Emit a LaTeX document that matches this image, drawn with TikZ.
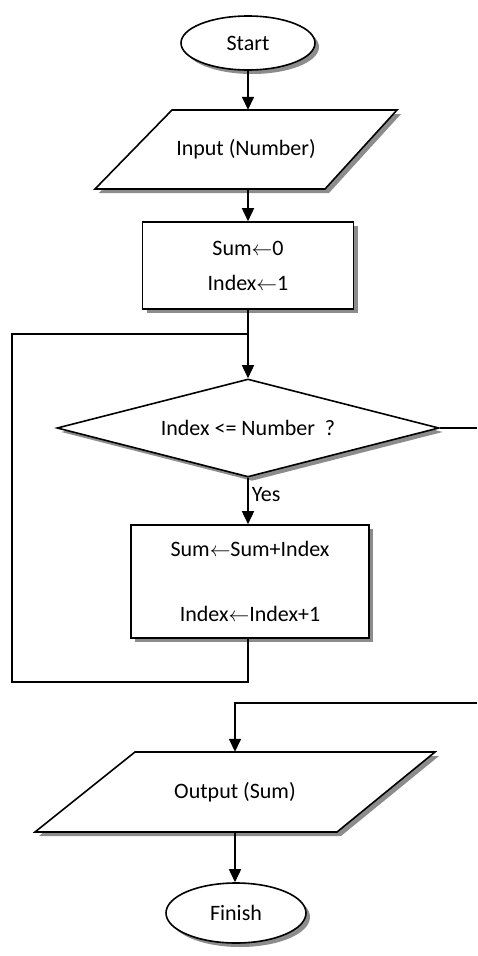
\documentclass[tikz,border=0pt]{standalone}
\usepackage{fontspec}
\setmainfont{Carlito}
\usetikzlibrary{shapes.geometric,shadows,arrows.meta}
\begin{document}
\begin{tikzpicture}[x=1pt,y=-1pt,
  font=\fontsize{22}{26}\selectfont,
  every node/.style={inner sep=0pt},
  shapeshadow/.style={drop shadow={shadow xshift=4pt,shadow yshift=-4pt,fill=black!45,opacity=1}},
  outline/.style={draw=black,line width=1.6pt,fill=white,shapeshadow},
  terminal/.style={ellipse,outline},
  iobox/.style={rectangle,draw=none},
  process/.style={rectangle,outline,align=center},
  decision/.style={diamond,outline,shape aspect=3.9},
  flow/.style={line width=1.6pt,-{Triangle[length=13pt,width=12pt]}},
  link/.style={line width=1.6pt},
]
\fill[white] (0,0) rectangle (477,956);
\useasboundingbox (0,0) rectangle (477,956);

% parallelogram outlines of the input/output steps
\path[outline,line join=miter] (172,110) -- (397,110) -- (325,189) -- (95,189) -- cycle;
\path[outline,line join=miter] (135,752) -- (435,752) -- (337,832) -- (35,832) -- cycle;

% shapes
\node[terminal,minimum width=134pt,minimum height=54pt] (start) at (248,43) {Start};
\node[iobox,minimum width=230pt,minimum height=79pt] (input) at (246,149.5) {Input (Number)};
\node[process,minimum width=211pt,minimum height=87pt] (init) at (248,265.5)
  {Sum$\leftarrow$0\\[9pt]Index$\leftarrow$1};
\node[decision,minimum width=382pt,minimum height=98pt] (test) at (248,428)
  {Index <= Number\ \ ?};
\node[process,minimum width=238pt,minimum height=113pt] (body) at (250,581.5)
  {Sum$\leftarrow$Sum+Index\\[39pt]Index$\leftarrow$Index+1};
\node[iobox,minimum width=300pt,minimum height=80pt] (output) at (235,792) {Output (Sum)};
\node[terminal,minimum width=140pt,minimum height=60pt] (finish) at (236,913) {Finish};

% loop-back and exit points
\coordinate (join) at (248,334);
\coordinate (loopA) at (248,682);
\coordinate (loopB) at (12,682);
\coordinate (loopC) at (12,334);
\coordinate (noend) at (477,428);
\coordinate (nostart) at (477,703);
\coordinate (nobend) at (235,703);

% connectors
\draw[flow] (start.south) -- (start.south |- input.north);
\draw[flow] (input.south -| init.north) -- (init.north);
\draw[flow] (init.south -| test.north) -- (test.north);
\draw[flow] (test.south) -- node[right=3pt,pos=0.35] (yes) {Yes} (test.south |- body.north);
\draw[link] (body.south -| loopA) -- (loopA) -- (loopB) -- (loopC) -- (join);
\draw[link] (test.east) -- (noend);
\draw[flow] (nostart) -- (nobend) -- (output.north);
\draw[flow] (output.south) -- (output.south |- finish.north);
\end{tikzpicture}
\end{document}
